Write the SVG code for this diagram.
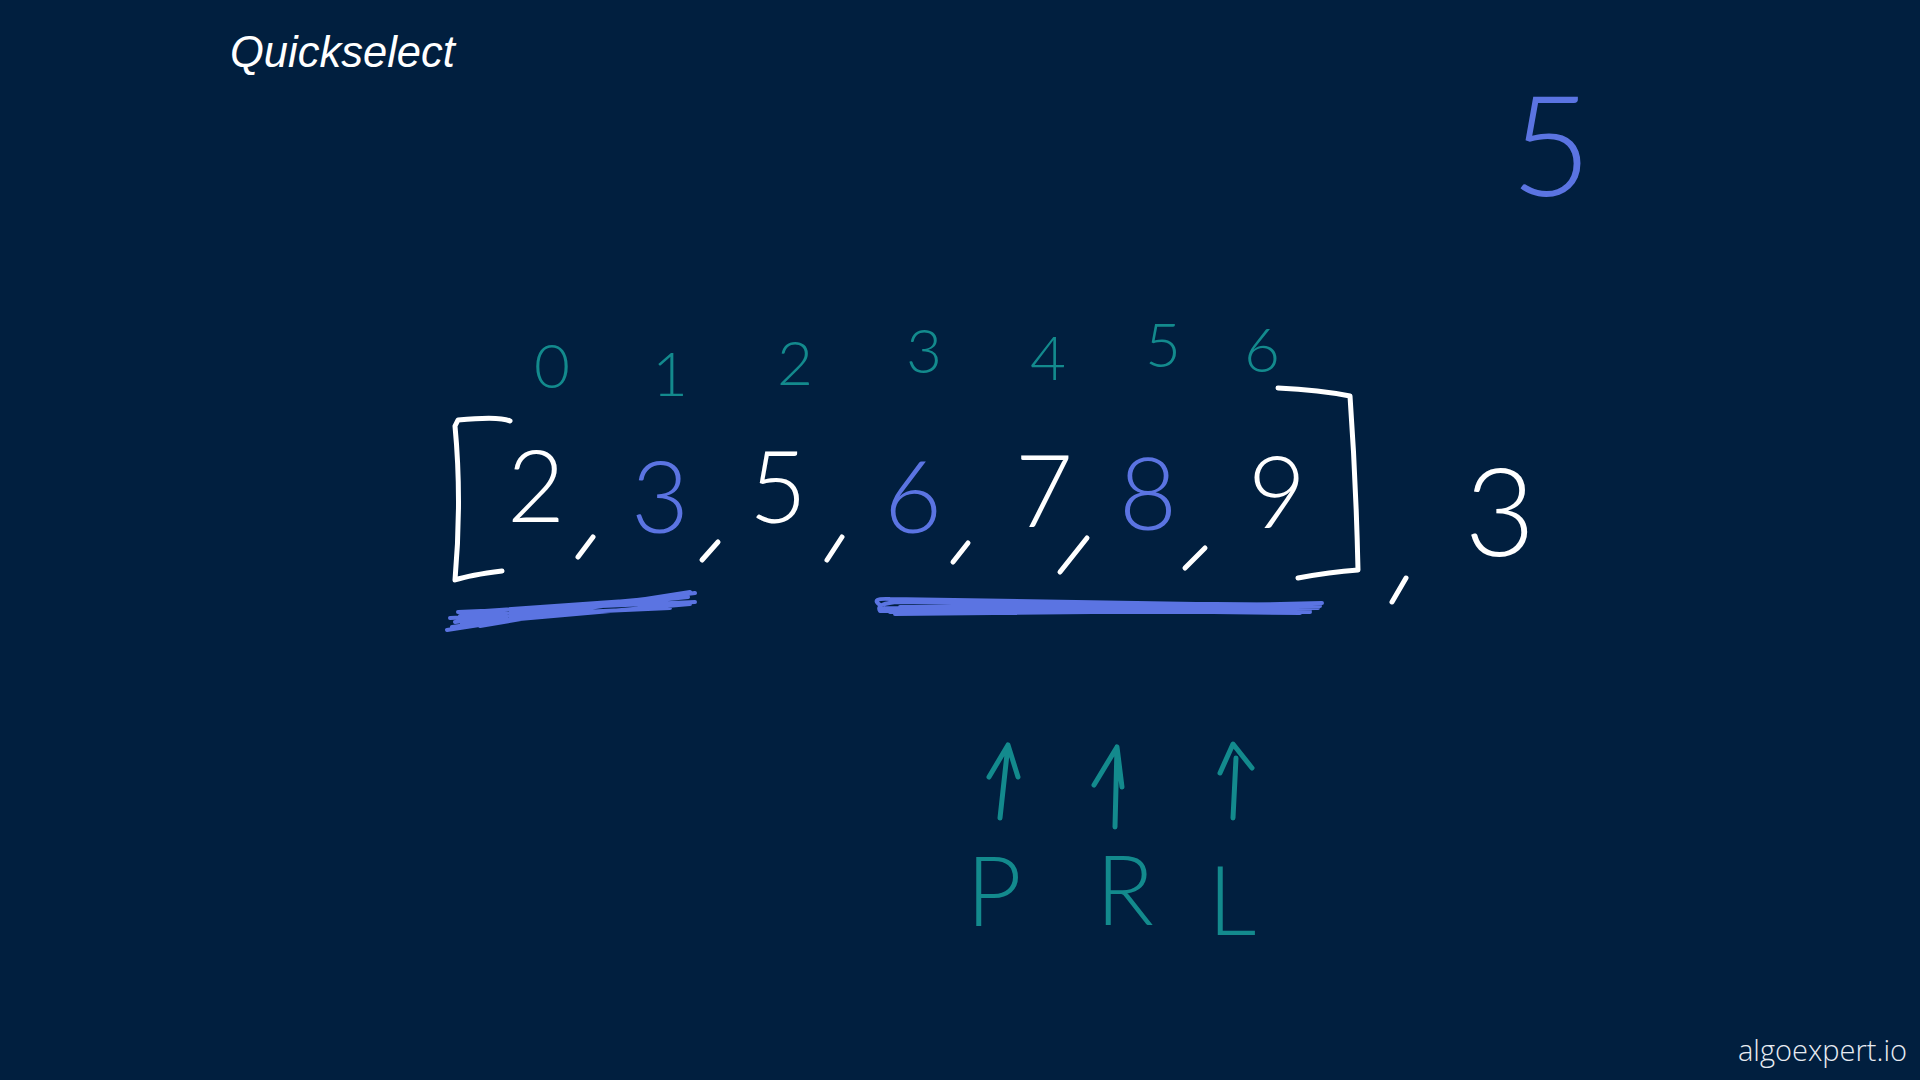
<svg xmlns="http://www.w3.org/2000/svg" width="1920" height="1080" viewBox="0 0 1920 1080">
<style>
.bg{fill:#011f3f}
.ttl{font-family:"Liberation Sans",Arial,sans-serif;font-style:italic;font-size:43.5px;fill:#ffffff}
.brand{font-family:"Open Sans","Lato",sans-serif;font-weight:300;font-size:29px;fill:#e8ecf2}
.hw{font-family:Lato,"Open Sans",sans-serif;font-weight:300;text-anchor:middle}
.big{font-size:100px}
.idx{font-size:62px;fill:#138a8d}
.ltr{font-size:96px;fill:#138a8d}
.w{fill:#ffffff}
.b{fill:#5b74e2}
.sw{fill:none;stroke:#ffffff;stroke-width:5;stroke-linecap:round;stroke-linejoin:round}
.sb{fill:none;stroke:#5b74e2;stroke-width:4;stroke-linecap:round;stroke-linejoin:round}
.st{fill:none;stroke:#138a8d;stroke-width:5;stroke-linecap:round;stroke-linejoin:round}
</style>
<rect class="bg" x="0" y="0" width="1920" height="1080"/>
<text class="ttl" x="230" y="67">Quickselect</text>
<text class="brand" x="1738" y="1061" textLength="169">algoexpert.io</text>

<g id="target-k">
<text class="hw b" x="1551" y="196" style="font-size:140px">5</text>
</g>

<g id="indices">
<text class="hw idx" x="552" y="388">0</text>
<text class="hw idx" x="670" y="396">1</text>
<text class="hw idx" x="795" y="385">2</text>
<text class="hw idx" x="924" y="373">3</text>
<text class="hw idx" x="1048" y="380">4</text>
<text class="hw idx" x="1163" y="367">5</text>
<text class="hw idx" x="1262" y="372">6</text>
</g>

<g id="array">
<path class="sw" d="M510,421 Q500,416 458,420 L455,426 Q462,500 455,580 Q470,575 502,571"/>
<text class="hw big w" x="536" y="522">2</text>
<path class="sw" d="M578,557 L593,537"/>
<text class="hw big b" x="660" y="533">3</text>
<path class="sw" d="M702,560 L718,542"/>
<text class="hw big w" x="778" y="523">5</text>
<path class="sw" d="M827,560 L842,537"/>
<text class="hw big b" x="913" y="533">6</text>
<path class="sw" d="M953,562 L968,543"/>
<text class="hw big w" x="1044" y="527">7</text>
<path class="sw" d="M1060,572 L1087,538"/>
<text class="hw big b" x="1148" y="530">8</text>
<path class="sw" d="M1185,568 L1205,548"/>
<text class="hw big w" x="1277" y="528">9</text>
<path class="sw" d="M1278,388 Q1320,390 1350,396 Q1356,480 1358,570 Q1330,572 1298,578"/>
<path class="sw" d="M1392,602 L1406,578"/>
<text class="hw w" x="1500" y="556" style="font-size:122px">3</text>
</g>

<g id="underline-left">
<path class="sb" d="M447,630 L690,592 M455,622 L695,593 M460,616 L680,596 M470,612 L640,600 M462,624 L690,604 M450,618 L670,608 M480,626 L620,602 M458,612 L695,602 M452,627 L660,598 M466,620 L688,597 M475,615 L600,606"/>
</g>
<g id="underline-right">
<path class="sb" d="M880,605 Q870,598 890,599 L1320,606 L880,611 Q875,603 900,602 L1310,610 L895,614 L1322,603 M885,608 L1300,613 M910,600 L1090,603 M890,612 L1318,608 M900,607 L1315,604 M1000,603 L1310,612 M880,609 L1200,606"/>
</g>

<g id="pointers">
<path class="st" d="M1000,818 L1008,745 M989,777 L1008,745 L1018,777"/>
<path class="st" d="M1115,827 L1117,747 M1094,785 L1117,747 L1122,787"/>
<path class="st" d="M1233,818 L1236,758 M1220,773 L1233,744 L1252,768"/>
<text class="hw ltr" x="994" y="926">P</text>
<text class="hw ltr" x="1125" y="925">R</text>
<text class="hw ltr" x="1232" y="935">L</text>
</g>
</svg>
